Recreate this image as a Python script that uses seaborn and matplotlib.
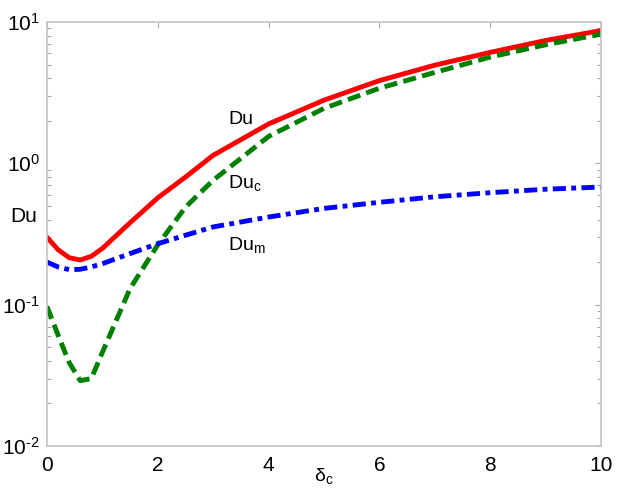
import math
import matplotlib
matplotlib.use('Agg')
import matplotlib.pyplot as plt
import pandas as pd
import seaborn as sns
from matplotlib.ticker import LogLocator, FuncFormatter

delta_c = [0, 0.2, 0.4, 0.6, 0.8, 1, 1.5, 2, 2.5, 3, 4, 5, 6, 7, 8, 9, 10]
du = [0.30, 0.245, 0.215, 0.207, 0.22, 0.25, 0.38, 0.57, 0.80, 1.14,
      1.9, 2.8, 3.85, 4.95, 6.1, 7.4, 8.7]
du_c = [0.097, 0.061, 0.039, 0.029, 0.030, 0.046, 0.13, 0.265, 0.49, 0.76,
        1.55, 2.45, 3.4, 4.4, 5.65, 6.9, 8.2]
du_m = [0.20, 0.185, 0.177, 0.178, 0.185, 0.195, 0.23, 0.27, 0.31, 0.355,
        0.417, 0.48, 0.53, 0.58, 0.62, 0.656, 0.68]

spine_grey = '#c4c4c4'

sns.set_theme(style='white', rc={
    'axes.edgecolor': spine_grey,
    'xtick.color': '#a8a8a8',
    'ytick.color': '#a8a8a8',
    'xtick.labelcolor': 'black',
    'ytick.labelcolor': 'black',
    'text.color': 'black',
    'axes.labelcolor': 'black',
    'xtick.direction': 'in',
    'ytick.direction': 'in',
    'mathtext.fontset': 'custom',
    'mathtext.rm': 'Liberation Sans',
    'mathtext.it': 'Liberation Sans',
    'mathtext.default': 'rm',
})
plt.rcParams['font.family'] = ['Liberation Sans', 'DejaVu Sans']

df = pd.DataFrame({'delta': delta_c, 'Du': du, 'Duc': du_c, 'Dum': du_m})

fig, ax = plt.subplots(figsize=(6.18, 4.96), dpi=100)
fig.subplots_adjust(left=0.076, right=0.9725, bottom=0.1008, top=0.9556)

lw = 3.5
sns.lineplot(df, x='delta', y='Du', ax=ax, color='#ff0000', linewidth=lw)
sns.lineplot(df, x='delta', y='Duc', ax=ax, color='#008000', linewidth=lw,
             linestyle=(0, (2.7, 1.3)))
sns.lineplot(df, x='delta', y='Dum', ax=ax, color='#0000ff', linewidth=lw,
             linestyle=(0, (2.7, 1.1, 1.0, 1.1)))

ax.set_yscale('log')
ax.set_xlim(0, 10)
ax.set_ylim(1e-2, 1e1)
ax.set_xticks([0, 2, 4, 6, 8, 10])
ax.yaxis.set_major_locator(LogLocator(base=10, numticks=10))
ax.yaxis.set_minor_locator(LogLocator(base=10, subs=range(2, 10), numticks=10))
ax.yaxis.set_major_formatter(FuncFormatter(
    lambda v, p: r'$10^{\text{%d}}$' % round(math.log10(v))))
ax.tick_params(which='both', top=True, right=True, labelsize=15)
ax.tick_params(axis='x', pad=7)
ax.tick_params(axis='y', pad=5)
ax.tick_params(which='major', length=4, width=0.8)
ax.tick_params(which='minor', length=3, width=0.8, left=True, right=True)
for s in ax.spines.values():
    s.set_linewidth(1.2)

ax.set_xlabel(r'$\delta_{c}$', fontsize=14, labelpad=-6)
ax.set_ylabel('Du', fontsize=15, rotation=0)
ax.yaxis.set_label_coords(-0.042, 0.52)

ax.text(3.27, 2.05, 'Du', fontsize=14, va='center')
ax.text(3.27, 0.726, r'Du$_{c}$', fontsize=14, va='center')
ax.text(3.27, 0.264, r'Du$_{m}$', fontsize=14, va='center')

fig.savefig('out.png', dpi=100, facecolor='white')
